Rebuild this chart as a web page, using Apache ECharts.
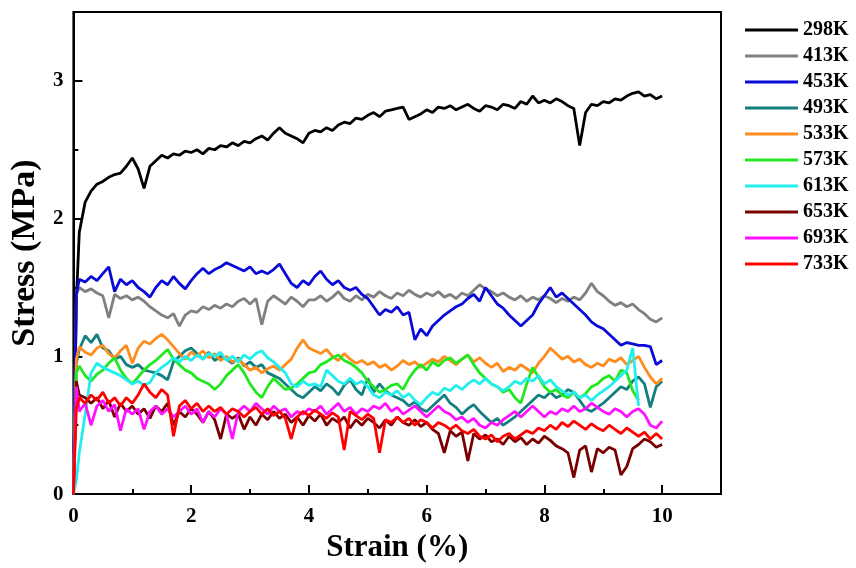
<!DOCTYPE html>
<html>
<head>
<meta charset="utf-8">
<script src="https://cdn.jsdelivr.net/npm/echarts@6.0.0/dist/echarts.min.js"></script>
<style>html,body{margin:0;padding:0;background:#fff;}#chart{width:856px;height:568px;}</style>
</head>
<body>
<div id="chart"></div>
<script>
// Strain (%) sample positions shared by all curves
const strain = [0, 0.05,
  0.1,0.2,0.3,0.4,0.5,0.6,0.7,0.8,0.9,1.0,
  1.1,1.2,1.3,1.4,1.5,1.6,1.7,1.8,1.9,2.0,
  2.1,2.2,2.3,2.4,2.5,2.6,2.7,2.8,2.9,3.0,
  3.1,3.2,3.3,3.4,3.5,3.6,3.7,3.8,3.9,4.0,
  4.1,4.2,4.3,4.4,4.5,4.6,4.7,4.8,4.9,5.0,
  5.1,5.2,5.3,5.4,5.5,5.6,5.7,5.8,5.9,6.0,
  6.1,6.2,6.3,6.4,6.5,6.6,6.7,6.8,6.9,7.0,
  7.1,7.2,7.3,7.4,7.5,7.6,7.7,7.8,7.9,8.0,
  8.1,8.2,8.3,8.4,8.5,8.6,8.7,8.8,8.9,9.0,
  9.1,9.2,9.3,9.4,9.5,9.6,9.7,9.8,9.9,10.0];

const s298 = [0, 1.4,
  1.9,2.12,2.2,2.25,2.27,2.3,2.32,2.33,2.38,2.44,
  2.36,2.22,2.38,2.42,2.46,2.44,2.47,2.46,2.49,2.48,
  2.5,2.47,2.51,2.5,2.53,2.52,2.55,2.53,2.56,2.55,
  2.58,2.6,2.57,2.62,2.66,2.62,2.6,2.58,2.55,2.62,
  2.64,2.63,2.66,2.64,2.68,2.7,2.69,2.73,2.72,2.75,
  2.77,2.74,2.78,2.79,2.8,2.81,2.72,2.74,2.76,2.79,
  2.77,2.81,2.8,2.82,2.79,2.81,2.83,2.8,2.78,2.82,
  2.81,2.79,2.83,2.82,2.8,2.85,2.83,2.89,2.84,2.86,
  2.84,2.87,2.85,2.82,2.8,2.53,2.77,2.83,2.82,2.85,
  2.84,2.87,2.86,2.89,2.91,2.92,2.89,2.9,2.87,2.89];

const s413 = [0, 1.45,
  1.5,1.47,1.49,1.46,1.44,1.28,1.45,1.42,1.44,1.41,
  1.43,1.4,1.36,1.33,1.3,1.28,1.31,1.22,1.3,1.33,
  1.32,1.36,1.34,1.37,1.35,1.38,1.36,1.4,1.42,1.38,
  1.42,1.23,1.4,1.44,1.41,1.38,1.43,1.4,1.36,1.41,
  1.41,1.44,1.4,1.43,1.47,1.42,1.4,1.44,1.41,1.45,
  1.43,1.47,1.44,1.42,1.46,1.44,1.48,1.45,1.43,1.46,
  1.44,1.47,1.43,1.45,1.42,1.46,1.44,1.48,1.52,1.49,
  1.47,1.44,1.46,1.43,1.41,1.44,1.4,1.43,1.41,1.44,
  1.42,1.39,1.42,1.4,1.43,1.41,1.46,1.53,1.47,1.44,
  1.4,1.37,1.39,1.36,1.38,1.34,1.31,1.27,1.25,1.28];

const s453 = [0, 1.45,
  1.56,1.54,1.58,1.55,1.6,1.65,1.47,1.56,1.52,1.55,
  1.5,1.47,1.43,1.5,1.55,1.52,1.58,1.53,1.49,1.55,
  1.6,1.64,1.6,1.63,1.65,1.68,1.66,1.64,1.62,1.65,
  1.6,1.62,1.6,1.63,1.67,1.6,1.53,1.5,1.55,1.52,
  1.58,1.62,1.56,1.52,1.55,1.5,1.48,1.5,1.45,1.42,
  1.36,1.3,1.34,1.32,1.36,1.3,1.32,1.12,1.2,1.15,
  1.22,1.26,1.3,1.33,1.36,1.38,1.42,1.45,1.4,1.5,
  1.44,1.38,1.35,1.3,1.26,1.22,1.26,1.3,1.38,1.44,
  1.5,1.43,1.46,1.42,1.38,1.34,1.3,1.25,1.22,1.2,
  1.16,1.12,1.08,1.1,1.09,1.08,1.08,1.07,0.94,0.97];

const s493 = [0, 0.95,
  1.05,1.15,1.1,1.16,1.06,1.04,0.98,1.0,0.94,0.92,
  0.94,0.9,0.89,0.88,0.86,0.83,0.96,1.0,1.04,1.06,
  1.02,0.98,1.03,0.97,1.0,0.98,0.95,0.99,0.93,0.96,
  0.92,0.94,0.88,0.86,0.84,0.8,0.76,0.72,0.7,0.74,
  0.78,0.75,0.8,0.77,0.72,0.79,0.83,0.76,0.72,0.84,
  0.74,0.8,0.75,0.72,0.7,0.68,0.64,0.67,0.62,0.6,
  0.64,0.68,0.72,0.66,0.63,0.58,0.62,0.65,0.6,0.56,
  0.52,0.55,0.5,0.53,0.56,0.6,0.64,0.68,0.72,0.7,
  0.74,0.7,0.72,0.76,0.74,0.68,0.62,0.6,0.63,0.66,
  0.7,0.74,0.78,0.76,0.82,0.85,0.8,0.63,0.78,0.82];

const s533 = [0, 0.98,
  1.07,1.03,1.01,1.06,1.08,1.02,0.99,1.04,1.08,0.95,
  1.06,1.11,1.09,1.13,1.16,1.12,1.07,1.02,0.98,1.03,
  1.0,1.04,0.99,1.02,0.97,1.0,0.96,0.98,0.94,0.9,
  0.92,0.88,0.91,0.93,0.9,0.94,0.98,1.06,1.12,1.06,
  1.04,1.02,1.05,1.0,0.97,1.02,0.98,0.95,0.97,0.94,
  0.96,0.92,0.94,0.9,0.93,0.97,0.94,0.96,0.92,0.95,
  0.98,0.96,1.0,0.97,0.94,0.98,1.01,0.96,0.99,0.95,
  0.92,0.95,0.89,0.92,0.9,0.94,0.91,0.88,0.95,1.0,
  1.06,1.02,0.98,1.0,0.96,0.98,0.94,0.92,0.95,0.93,
  0.98,0.96,0.99,0.94,0.97,1.0,0.92,0.85,0.8,0.84];

const s573 = [0, 0.88,
  0.93,0.86,0.82,0.87,0.9,0.95,0.99,0.9,0.84,0.8,
  0.85,0.9,0.94,0.97,1.01,1.05,0.98,0.94,0.9,0.88,
  0.84,0.82,0.8,0.76,0.8,0.86,0.9,0.94,0.88,0.8,
  0.74,0.7,0.78,0.84,0.8,0.76,0.77,0.8,0.84,0.88,
  0.89,0.94,0.96,0.99,1.01,0.97,0.95,0.92,0.88,0.82,
  0.78,0.74,0.76,0.79,0.8,0.76,0.84,0.9,0.94,0.9,
  0.96,0.93,0.97,0.99,0.95,0.98,1.01,0.94,0.88,0.84,
  0.8,0.78,0.74,0.76,0.7,0.66,0.8,0.92,0.85,0.78,
  0.74,0.76,0.72,0.7,0.74,0.7,0.73,0.78,0.8,0.84,
  0.86,0.82,0.9,0.88,0.75,0.68];

const s613 = [0, 0.1,
  0.3,0.58,0.88,0.95,0.92,0.9,0.88,0.86,0.83,0.8,
  0.82,0.79,0.81,0.88,0.92,0.95,0.99,0.96,1.0,0.97,
  1.01,0.98,1.02,1.0,1.03,0.97,1.0,0.96,1.01,0.98,
  1.02,1.04,0.99,0.96,0.92,0.88,0.8,0.78,0.82,0.79,
  0.8,0.78,0.9,0.86,0.82,0.8,0.84,0.8,0.82,0.78,
  0.72,0.7,0.74,0.72,0.75,0.7,0.73,0.68,0.65,0.7,
  0.74,0.72,0.77,0.75,0.79,0.76,0.8,0.83,0.8,0.84,
  0.8,0.78,0.75,0.78,0.82,0.8,0.84,0.82,0.86,0.8,
  0.83,0.78,0.75,0.72,0.74,0.7,0.72,0.68,0.72,0.75,
  0.78,0.82,0.86,0.9,1.06,0.64];

const s653 = [0, 0.82,
  0.72,0.7,0.66,0.7,0.62,0.68,0.56,0.66,0.6,0.64,
  0.58,0.62,0.55,0.64,0.6,0.66,0.5,0.6,0.56,0.62,
  0.58,0.52,0.6,0.54,0.4,0.58,0.55,0.58,0.47,0.56,
  0.5,0.58,0.54,0.6,0.55,0.58,0.52,0.56,0.5,0.57,
  0.53,0.58,0.5,0.55,0.52,0.56,0.48,0.54,0.5,0.55,
  0.52,0.48,0.54,0.5,0.56,0.52,0.5,0.54,0.49,0.52,
  0.47,0.44,0.3,0.46,0.42,0.45,0.24,0.44,0.4,0.43,
  0.38,0.4,0.36,0.42,0.38,0.41,0.36,0.4,0.37,0.42,
  0.39,0.35,0.33,0.3,0.12,0.32,0.35,0.16,0.33,0.3,
  0.34,0.32,0.14,0.2,0.33,0.36,0.4,0.38,0.34,0.36];

const s693 = [0, 0.78,
  0.6,0.66,0.5,0.64,0.68,0.6,0.65,0.46,0.62,0.58,
  0.62,0.47,0.6,0.64,0.58,0.62,0.56,0.6,0.64,0.58,
  0.62,0.52,0.6,0.56,0.62,0.58,0.4,0.6,0.64,0.6,
  0.66,0.62,0.58,0.64,0.6,0.62,0.56,0.6,0.58,0.62,
  0.6,0.64,0.58,0.62,0.66,0.6,0.63,0.58,0.62,0.6,
  0.64,0.62,0.66,0.6,0.63,0.58,0.61,0.64,0.6,0.56,
  0.6,0.64,0.6,0.58,0.54,0.56,0.52,0.55,0.5,0.48,
  0.52,0.5,0.54,0.57,0.6,0.56,0.6,0.64,0.6,0.56,
  0.6,0.58,0.62,0.6,0.64,0.6,0.62,0.66,0.63,0.6,
  0.58,0.62,0.6,0.56,0.6,0.62,0.58,0.5,0.48,0.53];

const s733 = [0, 0.62,
  0.7,0.66,0.72,0.68,0.74,0.66,0.7,0.64,0.7,0.66,
  0.72,0.8,0.74,0.7,0.76,0.72,0.42,0.64,0.68,0.62,
  0.66,0.6,0.64,0.6,0.63,0.58,0.62,0.6,0.56,0.6,
  0.63,0.58,0.62,0.57,0.6,0.55,0.4,0.56,0.6,0.57,
  0.61,0.58,0.55,0.59,0.56,0.32,0.6,0.57,0.54,0.58,
  0.55,0.3,0.54,0.52,0.56,0.52,0.55,0.5,0.54,0.52,
  0.48,0.52,0.5,0.47,0.5,0.46,0.44,0.47,0.42,0.4,
  0.43,0.38,0.42,0.44,0.4,0.43,0.46,0.44,0.48,0.46,
  0.5,0.47,0.52,0.49,0.53,0.5,0.47,0.51,0.48,0.46,
  0.5,0.47,0.44,0.48,0.45,0.42,0.45,0.4,0.44,0.4];

const seriesNames = ['298K','413K','453K','493K','533K','573K','613K','653K','693K','733K'];
const seriesValues = [s298,s413,s453,s493,s533,s573,s613,s653,s693,s733];
const seriesColors = ['#000000','#808080','#0a0ad8','#137f7f','#ff8c1e','#22e822','#22eeee','#7a0000','#ff10ff','#ff0000'];
const xTicks = [0,2,4,6,8,10];
const yTicks = [0,1,2,3];

const FONT = "'Liberation Serif','Times New Roman',serif";
const chart = echarts.init(document.getElementById('chart'), null, {renderer:'canvas'});

const series = seriesNames.map((name, k) => ({
  name: name,
  type: 'line',
  showSymbol: false,
  symbol: 'none',
  xAxisIndex: 0,
  yAxisIndex: 0,
  lineStyle: {color: seriesColors[k], width: 2.8},
  itemStyle: {color: seriesColors[k]},
  data: seriesValues[k].map((v, i) => [strain[i], v])
}));

chart.setOption({
  animation: false,
  backgroundColor: '#ffffff',
  grid: {left: 72, right: 135, top: 12, bottom: 71, show: true, borderColor: '#000', borderWidth: 2, backgroundColor: 'transparent'},
  legend: {
    orient: 'vertical', left: 740, top: 15,
    itemWidth: 53, itemHeight: 3, itemGap: 6, icon: 'rect',
    data: seriesNames,
    textStyle: {fontFamily: FONT, fontWeight: 'bold', fontSize: 20, color: '#000'}
  },
  xAxis: [{
    type: 'value', position: 'bottom', min: 0, max: 11, interval: 2,
    name: 'Strain (%)', nameLocation: 'middle', nameGap: 36,
    nameTextStyle: {fontFamily: FONT, fontWeight: 'bold', fontSize: 31, color: '#000'},
    axisLine: {show: true, lineStyle: {color: '#000', width: 2}},
    axisTick: {show: true, inside: true, length: 9, lineStyle: {color: '#000', width: 2}},
    axisLabel: {margin: 12, fontFamily: FONT, fontWeight: 'bold', fontSize: 21, color: '#000',
      formatter: v => xTicks.indexOf(v) >= 0 ? String(v) : ''},
    splitLine: {show: false}
  }, {
    type: 'value', position: 'bottom', min: 0, max: 11, interval: 1,
    axisLine: {show: false},
    axisTick: {show: true, inside: true, length: 5, lineStyle: {color: '#000', width: 2}},
    axisLabel: {show: false}, splitLine: {show: false}
  }],
  yAxis: [{
    type: 'value', position: 'left', min: 0, max: 3.5, interval: 1,
    name: 'Stress (MPa)', nameLocation: 'middle', nameGap: 26,
    nameTextStyle: {fontFamily: FONT, fontWeight: 'bold', fontSize: 34, color: '#000'},
    axisLine: {show: true, lineStyle: {color: '#000', width: 2}},
    axisTick: {show: true, inside: true, length: 9, lineStyle: {color: '#000', width: 2}},
    axisLabel: {margin: 10, fontFamily: FONT, fontWeight: 'bold', fontSize: 21, color: '#000',
      formatter: v => yTicks.indexOf(v) >= 0 ? String(v) : ''},
    splitLine: {show: false}
  }, {
    type: 'value', position: 'left', min: 0, max: 3.5, interval: 0.5,
    axisLine: {show: false},
    axisTick: {show: true, inside: true, length: 5, lineStyle: {color: '#000', width: 2}},
    axisLabel: {show: false}, splitLine: {show: false}
  }],
  series: series
});
</script>
</body>
</html>
